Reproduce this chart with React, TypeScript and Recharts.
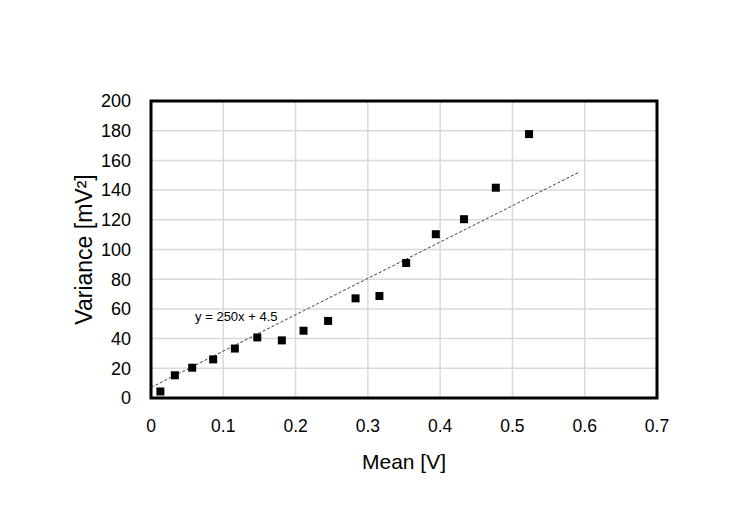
import React from 'react';
import {
  ScatterChart,
  Scatter,
  XAxis,
  YAxis,
  ZAxis,
  CartesianGrid,
  ReferenceArea,
  ReferenceDot,
} from 'recharts';

const meanV = [0.013, 0.033, 0.057, 0.086, 0.116, 0.147, 0.181, 0.211, 0.245, 0.283, 0.316, 0.353, 0.394, 0.433, 0.477, 0.523];
const varianceMv2 = [4.4, 15.3, 20.4, 26.0, 33.3, 40.8, 38.8, 45.3, 51.9, 67.1, 68.7, 90.9, 110.3, 120.4, 141.6, 177.7];

const trendX = [0, 0.592];
const trendY = [7.1, 152];

const xTicks = [0, 0.1, 0.2, 0.3, 0.4, 0.5, 0.6, 0.7];
const yTicks = [0, 20, 40, 60, 80, 100, 120, 140, 160, 180, 200];

const points = meanV.map((x, i) => ({ x, y: varianceMv2[i] }));
const trend = trendX.map((x, i) => ({ x, y: trendY[i] }));

const FONT = '"Liberation Sans", Arial, sans-serif';

export default function App() {
  return (
    <div style={{ position: 'absolute', left: 0, top: 0, background: '#fff' }}>
      <ScatterChart
        width={747}
        height={529}
        margin={{ top: 101, right: 90, bottom: 51, left: 0 }}
      >
        <CartesianGrid stroke="#d9d9d9" strokeWidth={1.5} />
        <XAxis
          type="number"
          dataKey="x"
          domain={[0, 0.7]}
          ticks={xTicks}
          interval={0}
          tickFormatter={(v: number) => (v === 0 ? '0' : String(v))}
          axisLine={false}
          tickLine={false}
          tickSize={6}
          tickMargin={16}
          height={80}
          tick={{ fill: '#000', fontSize: 17.5, fontFamily: FONT }}
          label={{
            value: 'Mean [V]',
            position: 'insideBottom',
            offset: 9,
            style: { fill: '#000', fontSize: 21, fontFamily: FONT },
          }}
        />
        <YAxis
          type="number"
          dataKey="y"
          domain={[0, 200]}
          ticks={yTicks}
          interval={0}
          axisLine={false}
          tickLine={false}
          tickSize={6}
          tickMargin={14}
          width={151}
          tick={{ fill: '#000', fontSize: 18, fontFamily: FONT }}
          label={{
            value: 'Variance [mV²]',
            angle: -90,
            position: 'center',
            dx: 8,
            style: { fill: '#000', fontSize: 23, fontFamily: FONT, textAnchor: 'middle' },
          }}
        />
        <ZAxis range={[85, 85]} />
        <ReferenceArea x1={0} x2={0.7} y1={0} y2={200} fill="none" stroke="#000" strokeWidth={3} />
        <Scatter
          data={trend}
          line={{ stroke: '#404040', strokeWidth: 1, strokeDasharray: '3 2' }}
          shape={() => <g />}
          isAnimationActive={false}
        />
        <Scatter data={points} shape="square" fill="#000" isAnimationActive={false} />
        <ReferenceDot
          x={0.061}
          y={54.7}
          r={0}
          fill="none"
          stroke="none"
          label={{
            value: 'y = 250x + 4.5',
            position: 'right',
            offset: 0,
            style: { fill: '#000', fontSize: 13, fontFamily: FONT },
          }}
        />
      </ScatterChart>
    </div>
  );
}
